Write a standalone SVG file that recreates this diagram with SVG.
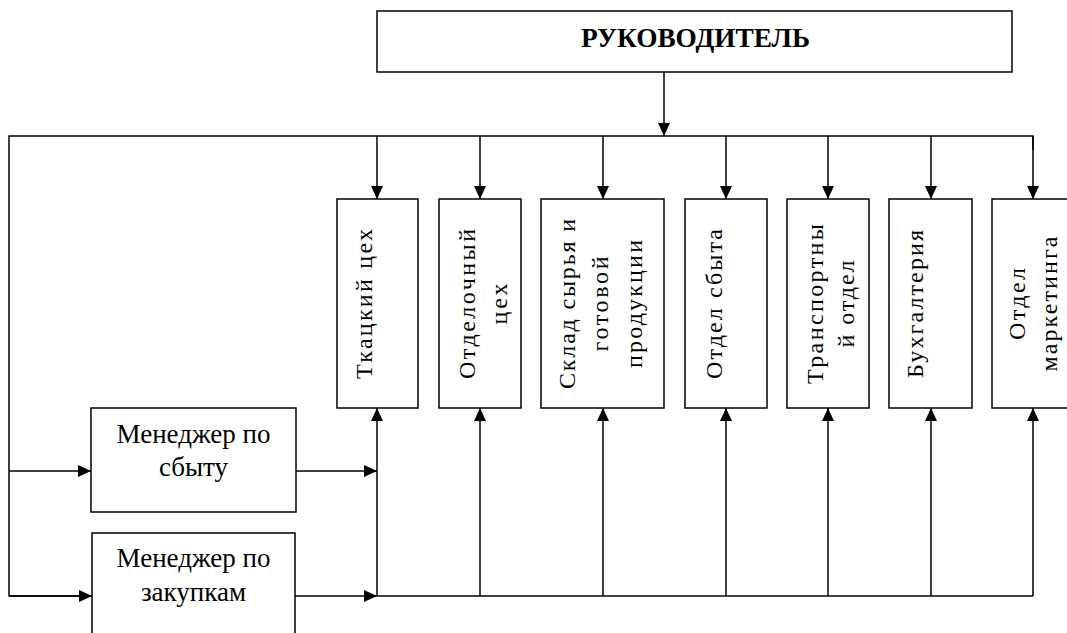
<svg xmlns="http://www.w3.org/2000/svg" width="1067" height="633" viewBox="0 0 1067 633">
<style>
.box{fill:#fff;stroke:#000;stroke-width:1.5}
.ln{fill:none;stroke:#000;stroke-width:1.5}
.vt{font-family:"Liberation Serif","Times New Roman",serif;font-size:24px;fill:#000;text-anchor:middle}
.ht{font-family:"Liberation Serif","Times New Roman",serif;font-size:27px;fill:#000;text-anchor:middle}
.tt{font-family:"Liberation Serif","Times New Roman",serif;font-size:27px;font-weight:bold;fill:#000;text-anchor:middle}
</style>
<defs>
<marker id="ar" viewBox="0 0 13 12" refX="13" refY="6" markerWidth="13" markerHeight="12" markerUnits="userSpaceOnUse" orient="auto">
<path d="M0,0 L13,6 L0,12 Z" fill="#000"/>
</marker>
</defs>
<rect width="1067" height="633" fill="#fff"/>
<g id="connectors">
<line class="ln" x1="664" y1="72" x2="664" y2="136" marker-end="url(#ar)"/>
<polyline class="ln" points="1033,150 1033,136 9,136 9,596 92,596"/>
<line class="ln" x1="1033" y1="136" x2="1033" y2="199" marker-end="url(#ar)"/>
<line class="ln" x1="377" y1="136" x2="377" y2="199" marker-end="url(#ar)"/>
<line class="ln" x1="480" y1="136" x2="480" y2="199" marker-end="url(#ar)"/>
<line class="ln" x1="603" y1="136" x2="603" y2="199" marker-end="url(#ar)"/>
<line class="ln" x1="726" y1="136" x2="726" y2="199" marker-end="url(#ar)"/>
<line class="ln" x1="828" y1="136" x2="828" y2="199" marker-end="url(#ar)"/>
<line class="ln" x1="931" y1="136" x2="931" y2="199" marker-end="url(#ar)"/>
<line class="ln" x1="9" y1="471" x2="91" y2="471" marker-end="url(#ar)"/>
<line class="ln" x1="9" y1="596" x2="92" y2="596" marker-end="url(#ar)"/>
<line class="ln" x1="296" y1="471" x2="377" y2="471" marker-end="url(#ar)"/>
<line class="ln" x1="295" y1="596" x2="377" y2="596" marker-end="url(#ar)"/>
<line class="ln" x1="377" y1="596" x2="1033" y2="596"/>
<line class="ln" x1="377" y1="596" x2="377" y2="408" marker-end="url(#ar)"/>
<line class="ln" x1="480" y1="596" x2="480" y2="408" marker-end="url(#ar)"/>
<line class="ln" x1="603" y1="596" x2="603" y2="408" marker-end="url(#ar)"/>
<line class="ln" x1="726" y1="596" x2="726" y2="408" marker-end="url(#ar)"/>
<line class="ln" x1="828" y1="596" x2="828" y2="408" marker-end="url(#ar)"/>
<line class="ln" x1="931" y1="596" x2="931" y2="408" marker-end="url(#ar)"/>
<line class="ln" x1="1033" y1="596" x2="1033" y2="408" marker-end="url(#ar)"/>
</g>
<g id="head">
<rect class="box" x="377" y="11" width="635" height="61"/>
<text class="tt" x="695.5" y="47" textLength="229" lengthAdjust="spacingAndGlyphs">РУКОВОДИТЕЛЬ</text>
</g>
<g id="tkatsky">
<rect class="box" x="337" y="199" width="81" height="209"/>
<text class="vt" transform="translate(372,304) rotate(-90)" textLength="150" lengthAdjust="spacing">Ткацкий цех</text>
</g>
<g id="otdelochny">
<rect class="box" x="439" y="199" width="82" height="209"/>
<text class="vt" transform="translate(475,304) rotate(-90)" textLength="150" lengthAdjust="spacing">Отделочный</text>
<text class="vt" transform="translate(507,304) rotate(-90)" textLength="41" lengthAdjust="spacing">цех</text>
</g>
<g id="sklad">
<rect class="box" x="541" y="199" width="123" height="209"/>
<text class="vt" transform="translate(575,304) rotate(-90)" textLength="170" lengthAdjust="spacing">Склад сырья и</text>
<text class="vt" transform="translate(608,304) rotate(-90)" textLength="95" lengthAdjust="spacing">готовой</text>
<text class="vt" transform="translate(642,304) rotate(-90)" textLength="128" lengthAdjust="spacing">продукции</text>
</g>
<g id="sbyt">
<rect class="box" x="685" y="199" width="82" height="209"/>
<text class="vt" transform="translate(722,304) rotate(-90)" textLength="150" lengthAdjust="spacing">Отдел сбыта</text>
</g>
<g id="transport">
<rect class="box" x="787" y="199" width="82" height="209"/>
<text class="vt" transform="translate(823,304) rotate(-90)" textLength="160" lengthAdjust="spacing">Транспортны</text>
<text class="vt" transform="translate(854,304) rotate(-90)" textLength="87" lengthAdjust="spacing">й отдел</text>
</g>
<g id="buh">
<rect class="box" x="889" y="199" width="83" height="209"/>
<text class="vt" transform="translate(923,304) rotate(-90)" textLength="148" lengthAdjust="spacing">Бухгалтерия</text>
</g>
<g id="marketing">
<rect class="box" x="992" y="199" width="90" height="209"/>
<text class="vt" transform="translate(1025,304) rotate(-90)" textLength="72" lengthAdjust="spacing">Отдел</text>
<text class="vt" transform="translate(1057,304) rotate(-90)" textLength="135" lengthAdjust="spacing">маркетинга</text>
</g>
<g id="mgr-sbyt">
<rect class="box" x="91" y="408" width="205" height="104"/>
<text class="ht" x="193.5" y="443">Менеджер по</text>
<text class="ht" x="193.5" y="476">сбыту</text>
</g>
<g id="mgr-zakup">
<rect class="box" x="92" y="533" width="203" height="130"/>
<text class="ht" x="193.5" y="567">Менеджер по</text>
<text class="ht" x="193.5" y="601">закупкам</text>
</g>
</svg>
